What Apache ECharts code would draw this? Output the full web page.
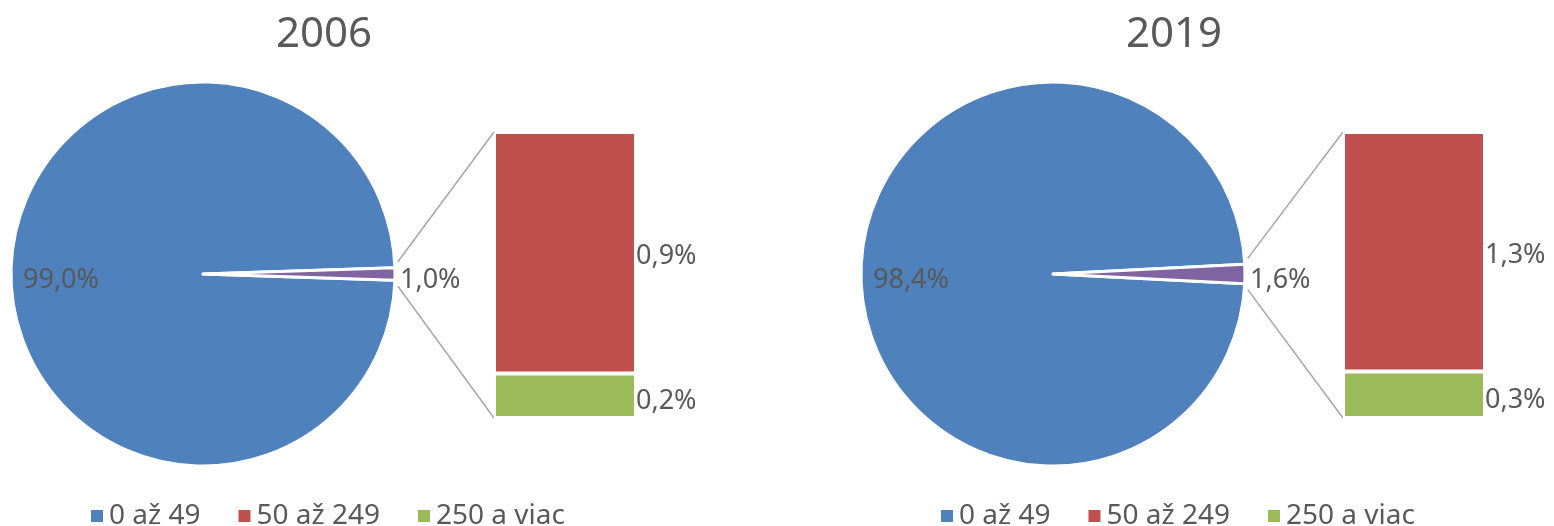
<!DOCTYPE html>
<html><head><meta charset="utf-8">
<script src="https://cdn.jsdelivr.net/npm/echarts@6/dist/echarts.min.js"></script>
<style>html,body{margin:0;padding:0;background:#fff}#c{width:1554px;height:526px}</style>
</head><body><div id="c"></div>
<script>
// Data
const years = ['2006', '2019'];
const categories = ['0 až 49', '50 až 249', '250 a viac'];
const small2006 = [98.97];             // 0 až 49
const share2006 = [0.87, 0.16];        // 50 až 249, 250 a viac
const small2019 = [98.4];
const share2019 = [1.34, 0.26];

const colors = ['#4f81bd', '#c0504d', '#9bbb59', '#8064a2'];
const txt = '#595959';
const FONT = 'Noto Sans';
const LBL = 27;

function fmt(v) { return v.toFixed(1).replace('.', ',') + '%'; }

const pies = [
  { year: years[0], main: small2006[0], parts: share2006, cx: 203, barLeft: 494, titleX: 319, legendX: 84 },
  { year: years[1], main: small2019[0], parts: share2019, cx: 1053, barLeft: 1343, titleX: 1169, legendX: 934 }
];
const cy = 274, R = 192, barTop = 132, barH = 286, barW = 142;

const chart = echarts.init(document.getElementById('c'));
const option = {
  animation: false,
  textStyle: { fontFamily: FONT },
  title: [], legend: [], grid: [], xAxis: [], yAxis: [], series: []
};

pies.forEach((p, i) => {
  const other = p.parts[0] + p.parts[1];
  const total = p.main + other;
  const otherPct = other / total * 100;
  option.title.push({
    text: p.year, left: p.titleX, top: 9, textAlign: 'center',
    textStyle: { fontSize: 42, fontWeight: 'normal', color: txt, fontFamily: FONT }
  });
  option.legend.push({
    data: categories, left: p.legendX, top: 497, icon: 'rect', itemWidth: 14, itemHeight: 14,
    itemGap: 36, selectedMode: false,
    textStyle: { fontSize: 28, color: txt, fontFamily: FONT }
  });
  option.grid.push({ left: p.barLeft, top: barTop, width: barW, height: barH });
  option.xAxis.push({ type: 'category', gridIndex: i, data: [''], show: false });
  option.yAxis.push({ type: 'value', gridIndex: i, min: 0, max: other, show: false });
  option.series.push({
    type: 'pie', center: [p.cx, cy], radius: R, clockwise: true,
    startAngle: -otherPct * 3.6 / 2,
    itemStyle: { borderColor: '#fff', borderWidth: 3 },
    emphasis: { disabled: true },
    labelLayout: function () { return { dy: 3 }; },
    data: [
      { name: categories[0], value: p.main, itemStyle: { color: colors[0] },
        label: { show: true, position: 'inside', formatter: fmt(p.main / total * 100), fontSize: LBL, color: txt, padding: [0, 86, 0, 0] } },
      { name: 'other', value: other, itemStyle: { color: colors[3] },
        label: { show: true, position: 'outside', formatter: fmt(otherPct), fontSize: LBL, color: txt, distanceToLabelLine: 0 },
        labelLine: { show: false, length: 5, length2: 0 } }
    ]
  });
  // stacked bar: bottom = 250 a viac, top = 50 až 249
  option.series.push({
    type: 'bar', name: categories[2], xAxisIndex: i, yAxisIndex: i, stack: 's' + i,
    barWidth: '100%', data: [p.parts[1]], itemStyle: { color: colors[2], borderColor: '#fff', borderWidth: 2 },
    label: { show: true, position: 'right', distance: 0, offset: [0, 6], formatter: fmt(p.parts[1]), fontSize: LBL, color: txt }
  });
  option.series.push({
    type: 'bar', name: categories[1], xAxisIndex: i, yAxisIndex: i, stack: 's' + i,
    barWidth: '100%', data: [p.parts[0]], itemStyle: { color: colors[1], borderColor: '#fff', borderWidth: 2 },
    label: { show: true, position: 'right', distance: 0, offset: [0, 4], formatter: fmt(p.parts[0]), fontSize: LBL, color: txt }
  });
});
chart.setOption(option);

// connector lines from the small slice edge to bar corners
const graphics = [];
pies.forEach((p, i) => {
  const other = p.parts[0] + p.parts[1];
  const total = p.main + other;
  const half = (other / total) * Math.PI;
  const topY = chart.convertToPixel({ yAxisIndex: i }, other);
  const botY = chart.convertToPixel({ yAxisIndex: i }, 0);
  const ex = p.cx + R * Math.cos(half) + 3;
  graphics.push({ type: 'line', shape: { x1: ex, y1: cy - R * Math.sin(half) - 6, x2: p.barLeft, y2: topY }, style: { stroke: '#a6a6a6', lineWidth: 1.5 }, silent: true });
  graphics.push({ type: 'line', shape: { x1: ex, y1: cy + R * Math.sin(half) + 6, x2: p.barLeft, y2: botY }, style: { stroke: '#a6a6a6', lineWidth: 1.5 }, silent: true });
});
chart.setOption({ graphic: graphics });
</script></body></html>
